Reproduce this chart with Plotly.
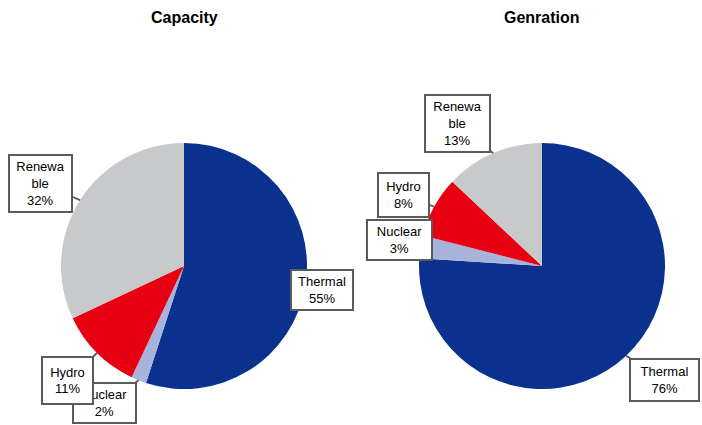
import math
import plotly.graph_objects as go

W, H = 702, 425

labels = ["Thermal", "Nuclear", "Hydro", "Renewable"]
label_text = ["Thermal", "Nuclear", "Hydro", "Renewa<br>ble"]
capacity = [55, 2, 11, 32]
generation = [76, 3, 8, 13]
titles = ["Capacity", "Genration"]
colors = ["#0B318F", "#A7B3DB", "#E60012", "#C8C9CB"]

# layout (pixels)
centers = [(184, 266), (542, 266)]
R = 123

# label box offsets from slice mid-point on rim (px), and box sizes
box_cfg = [
    {  # capacity
        "Thermal": (17, 5, 58, 36),
        "Nuclear": (-34, 23, 59, 36),
        "Hydro": (-30, 28, 47, 43),
        "Renewable": (-40, -17, 59, 53),
    },
    {  # generation
        "Thermal": (38, 24, 65, 38),
        "Nuclear": (-21, -7, 61, 36),
        "Hydro": (-31, -12, 47, 40),
        "Renewable": (-36, -30, 61, 53),
    },
]
draw_order = ["Thermal", "Renewable", "Nuclear", "Hydro"]

fig = go.Figure()
annotations = []
for k, vals in enumerate([capacity, generation]):
    cx, cy = centers[k]
    fig.add_trace(go.Pie(
        labels=labels, values=vals, sort=False, direction="clockwise", rotation=0,
        marker=dict(colors=colors, line=dict(width=0)),
        textinfo="none", hoverinfo="label+percent", showlegend=False,
        domain=dict(x=[(cx - R) / W, (cx + R) / W], y=[1 - (cy + R) / H, 1 - (cy - R) / H]),
    ))
    annotations.append(dict(
        text="<b>" + titles[k] + "</b>", x=cx / W, y=1 - 17 / H, xref="paper", yref="paper",
        showarrow=False, font=dict(family="Liberation Sans, Arial", size=16, color="#000"),
        xanchor="center", yanchor="middle",
    ))
    total = sum(vals)
    cum = 0
    mids = {}
    for lab, txt, v in zip(labels, label_text, vals):
        mid = (cum + v / 2) / total * 2 * math.pi
        cum += v
        px = cx + R * math.sin(mid)
        py = cy - R * math.cos(mid)
        pct = round(v / total * 100)
        mids[lab] = (px, py, txt + "<br>" + f"{pct}%")
    for lab in draw_order:
        px, py, t = mids[lab]
        ax, ay, bw, bh = box_cfg[k][lab]
        annotations.append(dict(
            text=t, x=px / W, y=1 - py / H, xref="paper", yref="paper",
            showarrow=True, ax=ax, ay=ay, arrowhead=0, arrowwidth=1.8, arrowcolor="#5A5A5A",
            standoff=0, startstandoff=0,
            font=dict(family="Liberation Sans, Arial", size=13, color="#000"),
            bgcolor="#FFFFFF", bordercolor="#5A5A5A", borderwidth=2, borderpad=1,
            width=bw, height=bh, align="center", valign="middle",
        ))

fig.update_layout(
    width=W, height=H, margin=dict(l=0, r=0, t=0, b=0),
    paper_bgcolor="#FFFFFF", plot_bgcolor="#FFFFFF",
    annotations=annotations,
)
fig.write_html("out.html")
